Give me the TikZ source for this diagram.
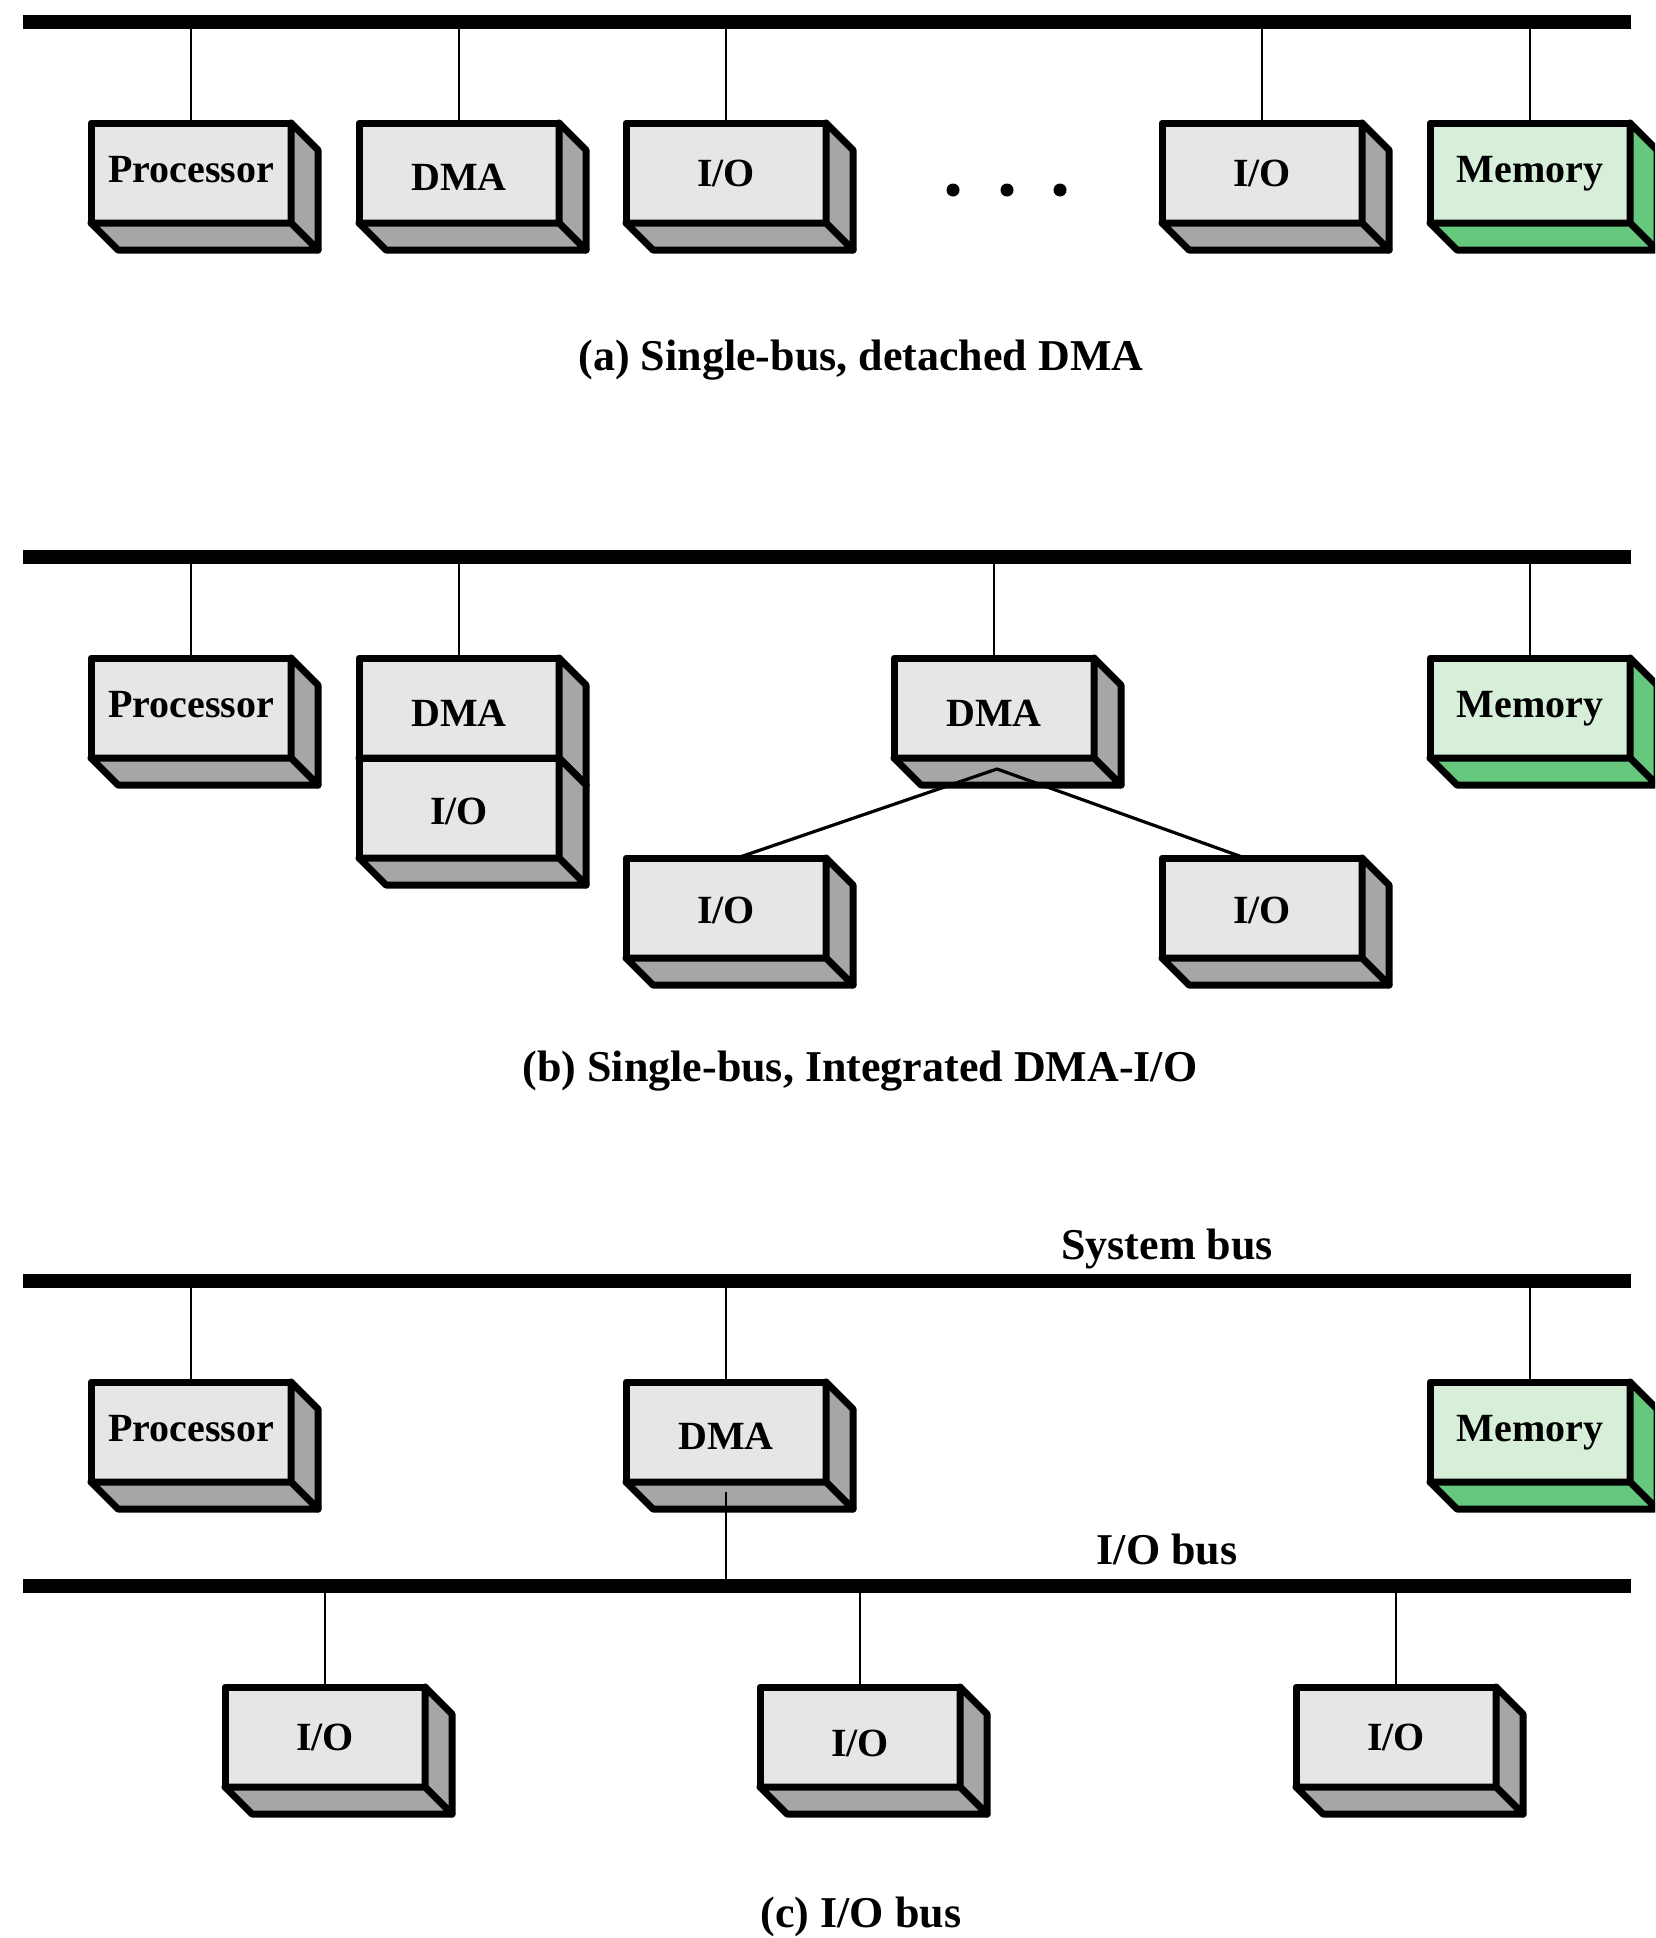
\documentclass[tikz,border=0pt]{standalone}
\usepackage{fontspec}
\setmainfont{Liberation Serif}
\definecolor{frontgrey}{RGB}{230,230,230}
\definecolor{sidegrey}{RGB}{166,166,166}
\definecolor{frontgreen}{RGB}{215,239,216}
\definecolor{sidegreen}{RGB}{102,200,125}
% one 3-D module: #1 name, #2 centre x, #3 top y, #4 front colour,
% #5 side colour, #6 label, #7 baseline offset below the centre
\newcommand{\modulebox}[7]{%
  \node[frontface, fill=#4] (#1) at (#2,#3) {};
  \path[sideface, fill=#5] (#1.north east) -- ++(27,27)
     -- ([shift={(27,27)}]#1.south east) -- (#1.south east) -- cycle;
  \path[sideface, fill=#5] (#1.south west) -- ++(27,27)
     -- ([shift={(27,27)}]#1.south east) -- (#1.south east) -- cycle;
  \node[boxlabel] (#1-text) at ([shift={(0,#7)}]#1.center) {#6};
}
\begin{document}
\begin{tikzpicture}[x=0.5pt, y=-0.5pt, line join=round,
  busline/.style={line width=7pt},
  tapline/.style={line width=1.4pt},
  linkline/.style={line width=1.6pt},
  frontface/.style={draw, line width=3.5pt, minimum width=100pt,
    minimum height=50pt, inner sep=0pt, outer sep=0pt, anchor=north},
  sideface/.style={draw, line width=3.5pt},
  boxlabel/.style={font=\fontsize{20pt}{24pt}\selectfont\bfseries,
    inner sep=0pt, anchor=base},
  captiontext/.style={font=\fontsize{22pt}{26pt}\selectfont\bfseries,
    inner sep=0pt},
  buslabel/.style={font=\fontsize{22pt}{26pt}\selectfont\bfseries,
    inner sep=0pt, anchor=base},
  dotmark/.style={fill=black}]
\useasboundingbox (0,0) rectangle (1655,1938);
\clip (0,0) rectangle (1655,1938);

% ---------------- (a) single bus, detached DMA ----------------
\coordinate (busA-w) at (23,22);
\coordinate (busA-e) at (1631,22);
\draw[busline] (busA-w) -- (busA-e);

\modulebox{procA}{191}{123}{frontgrey}{sidegrey}{Processor}{9}
\modulebox{dmaA}{459}{123}{frontgrey}{sidegrey}{DMA}{17}
\modulebox{ioA1}{726}{123}{frontgrey}{sidegrey}{I/O}{13}
\modulebox{ioA2}{1262}{123}{frontgrey}{sidegrey}{I/O}{13}
\modulebox{memA}{1530}{123}{frontgreen}{sidegreen}{Memory}{9}

\foreach \n in {procA,dmaA,ioA1,ioA2,memA}
  \draw[tapline] (\n.north |- busA-w) -- (\n.north);

\fill[dotmark] (953,190) circle[radius=6.5];
\fill[dotmark] (1007,190) circle[radius=6.5];
\fill[dotmark] (1060,190) circle[radius=6.5];

\node[captiontext] (capA) at (861,360) {(a) Single-bus, detached DMA};

% ---------------- (b) single bus, integrated DMA-I/O ----------------
\coordinate (busB-w) at (23,557);
\coordinate (busB-e) at (1631,557);
\draw[busline] (busB-w) -- (busB-e);

\modulebox{procB}{191}{658}{frontgrey}{sidegrey}{Processor}{9}
\modulebox{dmaB1}{459}{658}{frontgrey}{sidegrey}{DMA}{18}
\modulebox{ioB1}{459}{758}{frontgrey}{sidegrey}{I/O}{16}
\modulebox{dmaB2}{994}{658}{frontgrey}{sidegrey}{DMA}{18}
\modulebox{memB}{1530}{658}{frontgreen}{sidegreen}{Memory}{9}
\modulebox{ioB2}{726}{858}{frontgrey}{sidegrey}{I/O}{15}
\modulebox{ioB3}{1262}{858}{frontgrey}{sidegrey}{I/O}{15}

\foreach \n in {procB,dmaB1,dmaB2,memB}
  \draw[tapline] (\n.north |- busB-w) -- (\n.north);

\coordinate (fork) at ([shift={(3,11)}]dmaB2.south);
\draw[linkline] ([shift={(11,0)}]ioB2.north) -- (fork) -- ([shift={(-17,0)}]ioB3.north);

\node[captiontext] (capB) at (860,1071) {(b) Single-bus, Integrated DMA-I/O};

% ---------------- (c) separate I/O bus ----------------
\node[buslabel] (sysbus) at (1167,1259) {System bus};
\coordinate (busC-w) at (23,1281);
\coordinate (busC-e) at (1631,1281);
\draw[busline] (busC-w) -- (busC-e);

\node[buslabel] (iobus) at (1167,1564) {I/O bus};
\coordinate (busD-w) at (23,1586);
\coordinate (busD-e) at (1631,1586);
\draw[busline] (busD-w) -- (busD-e);

\modulebox{procC}{191}{1382}{frontgrey}{sidegrey}{Processor}{9}
\modulebox{dmaC}{726}{1382}{frontgrey}{sidegrey}{DMA}{17}
\modulebox{memC}{1530}{1382}{frontgreen}{sidegreen}{Memory}{9}
\modulebox{ioC1}{325}{1687}{frontgrey}{sidegrey}{I/O}{13}
\modulebox{ioC2}{860}{1687}{frontgrey}{sidegrey}{I/O}{19}
\modulebox{ioC3}{1396}{1687}{frontgrey}{sidegrey}{I/O}{13}

\foreach \n in {procC,dmaC,memC}
  \draw[tapline] (\n.north |- busC-w) -- (\n.north);
\foreach \n in {ioC1,ioC2,ioC3}
  \draw[tapline] (\n.north |- busD-w) -- (\n.north);
\draw[tapline] ([shift={(0,10)}]dmaC.south) -- (dmaC.south |- busD-w);

\node[captiontext] (capC) at (861,1917) {(c) I/O bus};
\end{tikzpicture}
\end{document}
